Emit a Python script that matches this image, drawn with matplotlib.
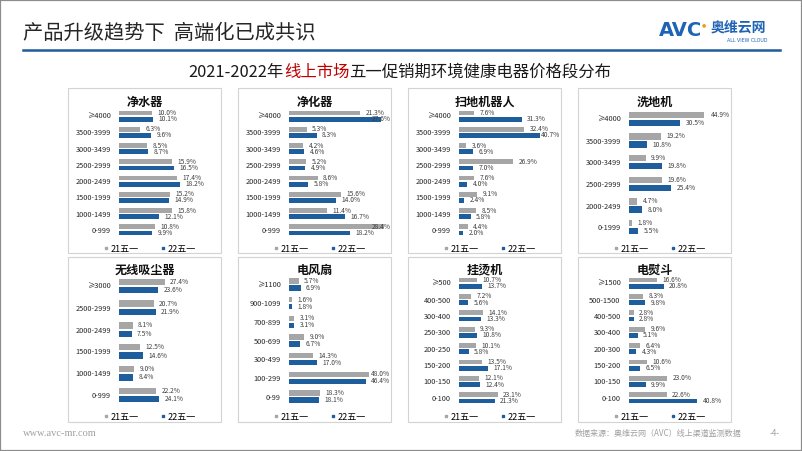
import matplotlib
matplotlib.use('Agg')
import matplotlib.pyplot as plt
from matplotlib.patches import Rectangle
from matplotlib.lines import Line2D

plt.rcParams['font.family'] = ['Noto Sans CJK SC', 'DejaVu Sans']

# ---- data (share of sales, %) ----
water_cats = ['≥4000', '3500-3999', '3000-3499', '2500-2999', '2000-2499', '1500-1999', '1000-1499', '0-999']
water_21 = [10.0, 6.3, 8.5, 15.9, 17.4, 15.2, 15.8, 10.8]
water_22 = [10.1, 9.6, 8.7, 16.5, 18.2, 14.9, 12.1, 9.9]

air_cats = ['≥4000', '3500-3999', '3000-3499', '2500-2999', '2000-2499', '1500-1999', '1000-1499', '0-999']
air_21 = [21.3, 5.3, 4.2, 5.2, 8.6, 15.6, 11.4, 28.4]
air_22 = [27.6, 8.3, 4.6, 4.9, 5.8, 14.0, 16.7, 18.2]

robot_cats = ['≥4000', '3500-3999', '3000-3499', '2500-2999', '2000-2499', '1500-1999', '1000-1499', '0-999']
robot_21 = [7.6, 32.4, 3.6, 26.9, 7.6, 9.1, 8.5, 4.4]
robot_22 = [31.3, 40.7, 6.9, 7.0, 4.0, 2.4, 5.8, 2.0]

washer_cats = ['≥4000', '3500-3999', '3000-3499', '2500-2999', '2000-2499', '0-1999']
washer_21 = [44.9, 19.2, 9.9, 19.6, 4.7, 1.8]
washer_22 = [30.5, 10.8, 19.8, 25.4, 8.0, 5.5]

vacuum_cats = ['≥3000', '2500-2999', '2000-2499', '1500-1999', '1000-1499', '0-999']
vacuum_21 = [27.4, 20.7, 8.1, 12.5, 9.0, 22.2]
vacuum_22 = [23.6, 21.9, 7.5, 14.6, 8.4, 24.1]

fan_cats = ['≥1100', '900-1099', '700-899', '500-699', '300-499', '100-299', '0-99']
fan_21 = [5.7, 1.6, 3.1, 9.0, 14.3, 48.0, 18.3]
fan_22 = [6.9, 1.8, 3.1, 6.7, 17.0, 46.4, 18.1]

steamer_cats = ['≥500', '400-500', '300-400', '250-300', '200-250', '150-200', '100-150', '0-100']
steamer_21 = [10.7, 7.2, 14.1, 9.3, 10.1, 13.5, 12.1, 23.1]
steamer_22 = [13.7, 5.6, 13.3, 10.8, 5.8, 17.1, 12.4, 21.3]

iron_cats = ['≥1500', '500-1500', '400-500', '300-400', '200-300', '150-200', '100-150', '0-100']
iron_21 = [16.6, 8.3, 2.8, 9.6, 6.4, 10.6, 23.0, 22.6]
iron_22 = [20.8, 9.8, 2.8, 5.1, 4.3, 6.5, 9.9, 40.8]

series_names = ['21五一', '22五一']

panels = [
    ('净水器', water_cats, water_21, water_22, 30),
    ('净化器', air_cats, air_21, air_22, 30),
    ('扫地机器人', robot_cats, robot_21, robot_22, 50),
    ('洗地机', washer_cats, washer_21, washer_22, 60),
    ('无线吸尘器', vacuum_cats, vacuum_21, vacuum_22, 60),
    ('电风扇', fan_cats, fan_21, fan_22, 60),
    ('挂烫机', steamer_cats, steamer_21, steamer_22, 60),
    ('电熨斗', iron_cats, iron_21, iron_22, 60),
]

W, H = 802, 451
GRAY = '#A6A6A6'
BLUE = '#1F5E9C'


def fx(px):
    return px / W


def fy(py):
    return 1 - py / H


fig = plt.figure(figsize=(W / 100, H / 100), dpi=100)
fig.patch.set_facecolor('white')

# slide frame
fig.patches.append(Rectangle((0, 0), 1, 1, transform=fig.transFigure, fill=False,
                             edgecolor='#8C8C8C', lw=1.6))

# header
fig.text(fx(23), fy(33), '产品升级趋势下  高端化已成共识', fontsize=14.6, color='#262626',
         va='center', ha='left')
fig.lines.append(Line2D([fx(23), fx(780)], [fy(50), fy(50)], transform=fig.transFigure,
                        color='#1F5C99', lw=1.8))

# logo
fig.text(fx(659), fy(31), 'AVC', fontsize=14, fontweight='bold',
         color='#1F63B5', va='center', ha='left', family='DejaVu Sans')
fig.text(fx(704), fy(25), '●', fontsize=3.5, color='#F39A1E', va='center', ha='center',
         family='DejaVu Sans')
fig.text(fx(711), fy(28), '奥维云网', fontsize=10, fontweight='bold', color='#1F63B5',
         va='center', ha='left')
fig.text(fx(727), fy(40), 'ALL VIEW CLOUD', fontsize=3.4, color='#1F63B5', va='center',
         ha='left', family='DejaVu Sans')

# subtitle with red part
pieces = [('2021-2022年', '#1A1A1A'), ('线上市场', '#C00000'),
          ('五一促销期环境健康电器价格段分布', '#1A1A1A')]
renderer = fig.canvas.get_renderer()
objs = []
for txt, col in pieces:
    t = fig.text(0, fy(72), txt, fontsize=11.8, color=col, va='center', ha='left')
    objs.append(t)
widths = [t.get_window_extent(renderer).width for t in objs]
x = 400 - sum(widths) / 2
for t, w in zip(objs, widths):
    t.set_x(fx(x))
    x += w

# panels
lefts = [68, 238, 408, 578]
rows = [dict(top=88, bot=253, ptop=108, pbot=238, title=102, leg=249),
        dict(top=257, bot=422, ptop=275, pbot=406, title=270, leg=417)]
pw = 153

for i, (title, cats, v21, v22, xmax) in enumerate(panels):
    L = lefts[i % 4]
    r = rows[i // 4]
    fig.patches.append(Rectangle((fx(L), fy(r['bot'])), pw / W, (r['bot'] - r['top']) / H,
                                 transform=fig.transFigure, fill=False,
                                 edgecolor='#D3D3D3', lw=0.8))
    fig.text(fx(L + pw / 2), fy(r['title']), title, fontsize=8.7, fontweight='bold',
             ha='center', va='center', color='#111111')

    ax = fig.add_axes([fx(L + 51), fy(r['pbot']), 100 / W, (r['pbot'] - r['ptop']) / H])
    n = len(cats)
    ys = list(range(n))
    ax.barh([y - 0.19 for y in ys], v21, height=0.29, color=GRAY)
    ax.barh([y + 0.19 for y in ys], v22, height=0.29, color=BLUE)
    ax.set_xlim(0, xmax)
    ax.set_ylim(n - 0.5, -0.5)
    ax.set_yticks(ys)
    ax.set_yticklabels(cats, fontsize=5.3, color='#262626')
    ax.set_xticks([])
    ax.tick_params(axis='y', length=0, pad=6)
    for s in ax.spines.values():
        s.set_visible(False)
    ax.patch.set_alpha(0)

    for vals, off in ((v21, -0.19), (v22, 0.19)):
        for y, v in zip(ys, vals):
            lab = f'{v:.1f}%'
            if v / xmax > 0.74:
                ax.annotate(lab, xy=(1.0, y + off), xycoords=ax.get_yaxis_transform(),
                            xytext=(1, 0), textcoords='offset points', ha='right',
                            va='center', fontsize=4.8, color='#404040', annotation_clip=False)
            else:
                ax.annotate(lab, xy=(v, y + off), xytext=(4, 0), textcoords='offset points',
                            ha='left', va='center', fontsize=4.8, color='#404040',
                            annotation_clip=False)

    handles = [Line2D([], [], marker='s', ls='', color=GRAY, markersize=2),
               Line2D([], [], marker='s', ls='', color=BLUE, markersize=2)]
    ax.legend(handles, series_names, loc='center', bbox_to_anchor=(fx(L + 82), fy(r['leg'])),
              bbox_transform=fig.transFigure, ncol=2, frameon=False, fontsize=6.5,
              handlelength=0.5, handletextpad=0.3, columnspacing=2.4, borderpad=0)

# footer
fig.text(fx(23), fy(433), 'www.avc-mr.com', fontsize=7.5, color='#A0A0A0', va='center',
         ha='left', family='Liberation Serif')
fig.text(fx(741), fy(433), '数据来源：奥维云网（AVC）线上渠道监测数据', fontsize=5.8,
         color='#A0A0A0', va='center', ha='right')
fig.text(fx(775), fy(433), '-4-', fontsize=5.8, color='#A0A0A0', va='center', ha='center')

fig.savefig('out.png', dpi=100, facecolor='white')
